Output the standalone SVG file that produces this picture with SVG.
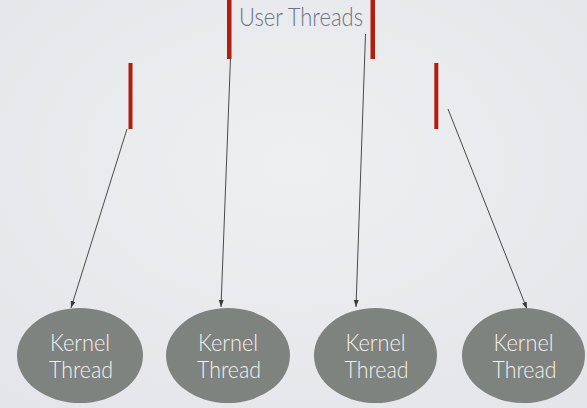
<svg xmlns="http://www.w3.org/2000/svg" width="587" height="408" viewBox="0 0 587 408">
<defs>
<radialGradient id="bg" cx="50%" cy="40%" r="75%">
<stop offset="0" stop-color="#eeeff1"/>
<stop offset="1" stop-color="#e3e5e8"/>
</radialGradient>
<marker id="arr" viewBox="0 0 10 10" refX="10" refY="5" markerWidth="7" markerHeight="7" markerUnits="userSpaceOnUse" orient="auto">
<path d="M0,1.5 L10,5 L0,8.5 z" fill="#3a3a3a"/>
</marker>
</defs>
<style>
.bar{fill:#b11e0f}
.conn{stroke:#4a4a4a;stroke-width:1;fill:none;marker-end:url(#arr)}
.node{fill:#7e837f}
.lbl{font-family:Lato,"Liberation Sans",sans-serif;font-weight:300;font-size:24px;fill:#f4f2ee;text-anchor:middle}
.title{font-family:Lato,"Liberation Sans",sans-serif;font-weight:300;font-size:25px;fill:#6b7386}
</style>
<rect width="587" height="408" fill="url(#bg)"/>
<g id="user-threads">
<rect class="bar" x="128.5" y="63" width="4" height="66"/>
<rect class="bar" x="227" y="0" width="4.5" height="59"/>
<rect class="bar" x="370.5" y="0" width="4.5" height="59"/>
<rect class="bar" x="434.3" y="63" width="4" height="66"/>
<text class="title" x="239" y="26" textLength="124" lengthAdjust="spacingAndGlyphs">User Threads</text>
</g>
<g id="connectors">
<line class="conn" x1="127" y1="129" x2="71" y2="308"/>
<line class="conn" x1="230.5" y1="58" x2="221" y2="307"/>
<line class="conn" x1="365.5" y1="34" x2="356" y2="307"/>
<line class="conn" x1="448" y1="109" x2="527" y2="309"/>
</g>
<g id="kernel1">
<ellipse class="node" cx="80" cy="355.5" rx="63" ry="47.5"/>
<text class="lbl" x="80" y="351" textLength="60" lengthAdjust="spacingAndGlyphs">Kernel</text>
<text class="lbl" x="81" y="378" textLength="64" lengthAdjust="spacingAndGlyphs">Thread</text>
</g>
<g id="kernel2">
<ellipse class="node" cx="228" cy="355.5" rx="62" ry="47.5"/>
<text class="lbl" x="228" y="351" textLength="60" lengthAdjust="spacingAndGlyphs">Kernel</text>
<text class="lbl" x="229" y="378" textLength="64" lengthAdjust="spacingAndGlyphs">Thread</text>
</g>
<g id="kernel3">
<ellipse class="node" cx="375.5" cy="355.5" rx="61.5" ry="47.5"/>
<text class="lbl" x="375.5" y="351" textLength="60" lengthAdjust="spacingAndGlyphs">Kernel</text>
<text class="lbl" x="376.5" y="378" textLength="64" lengthAdjust="spacingAndGlyphs">Thread</text>
</g>
<g id="kernel4">
<ellipse class="node" cx="523.5" cy="355.5" rx="61.5" ry="47.5"/>
<text class="lbl" x="523.5" y="351" textLength="60" lengthAdjust="spacingAndGlyphs">Kernel</text>
<text class="lbl" x="524.5" y="378" textLength="64" lengthAdjust="spacingAndGlyphs">Thread</text>
</g>
</svg>
